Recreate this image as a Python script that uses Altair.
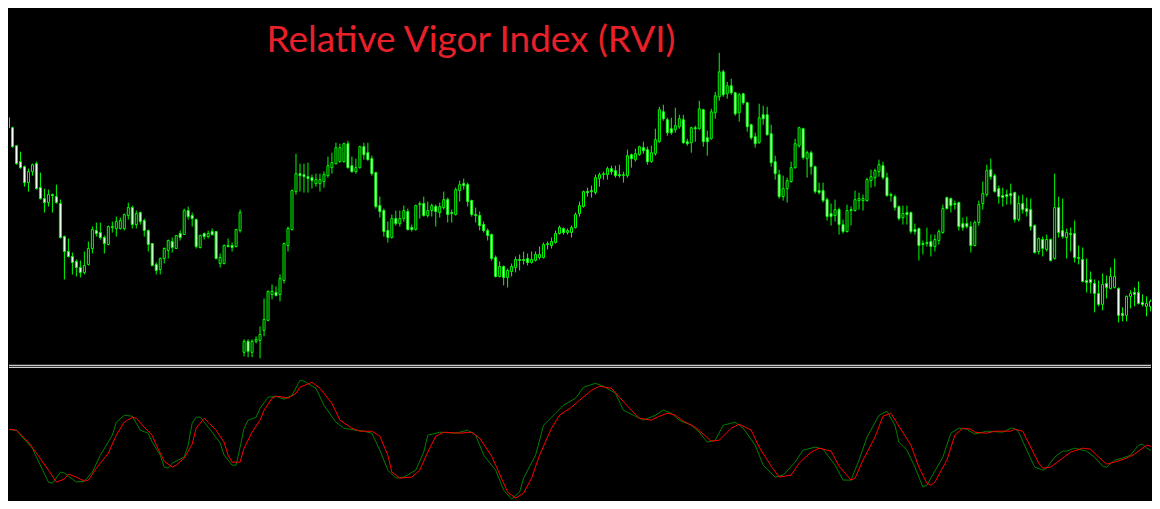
import altair as alt
import pandas as pd

TITLE = "Relative Vigor Index (RVI)"

# Candles (price units), one per bar
open_ = [
    367,382,372,354,338,333,317,328,336,312,
    301,297,305,303,296,263,248,243,238,232,
    227,235,251,269,267,262,255,272,271,271,
    271,284,292,275,287,279,269,256,235,230,
    241,249,258,251,266,265,289,284,280,252,
    266,263,268,268,236,236,254,254,253,269,
    147,158,147,158,159,169,179,205,207,205,
    219,254,270,308,326,325,323,322,316,316,
    318,324,332,336,338,338,356,334,328,332,
    353,347,341,327,294,289,269,262,281,276,
    281,288,272,270,295,296,284,289,293,287,
    292,300,287,285,309,316,315,299,285,284,
    275,269,265,242,223,233,222,228,232,240,
    240,241,237,239,242,242,255,254,257,266,
    271,267,267,272,286,293,308,309,307,321,
    325,325,331,329,325,324,324,345,340,345,
    352,350,338,346,358,388,380,371,370,373,
    380,358,357,372,371,390,362,361,387,403,
    428,406,414,407,387,406,397,375,363,357,
    385,385,366,338,325,303,311,318,332,354,
    371,341,347,333,309,309,300,286,284,290,
    275,268,290,289,299,299,299,319,322,328,
    334,322,305,303,293,282,287,287,270,271,
    256,257,258,253,259,267,302,301,296,297,
    276,276,273,254,277,296,305,330,324,311,
    304,305,306,307,280,296,291,290,274,248,
    260,250,260,241,292,269,262,266,266,242,
    240,219,220,216,206,195,216,211,212,211,
    186,184,203,207,207,197,193,193,198,203,
]
close = [
    382,372,353,336,332,317,328,335,311,301,
    297,305,304,297,262,248,243,237,232,227,
    234,251,270,266,262,256,273,273,278,279,
    285,292,275,286,278,269,255,234,229,241,
    251,259,252,264,262,289,283,281,253,264,
    263,266,265,241,242,254,253,252,270,287,
    158,148,158,160,165,180,208,208,204,221,
    256,271,309,326,324,323,321,319,320,320,
    325,334,337,352,352,356,332,328,332,353,
    345,340,326,293,288,268,262,281,276,281,
    289,270,270,294,296,284,289,294,288,293,
    300,285,286,310,315,314,298,285,284,274,
    269,264,241,223,233,222,229,233,240,239,
    239,237,240,245,245,255,256,258,266,272,
    267,269,272,285,294,308,307,308,322,325,
    326,331,328,324,324,325,344,341,346,353,
    349,338,347,360,390,381,367,367,374,381,
    357,356,372,371,391,358,358,388,404,428,
    405,414,407,386,405,397,373,362,356,382,
    381,365,337,326,303,311,319,332,356,372,
    342,347,333,308,307,299,283,283,290,275,
    268,289,289,300,301,301,320,323,329,335,
    322,304,304,292,281,286,285,268,268,254,
    255,256,253,260,268,291,291,294,295,273,
    272,273,254,277,295,306,329,323,308,303,
    302,303,304,280,296,290,288,273,247,261,
    251,260,239,292,267,263,267,265,242,241,
    218,217,217,206,195,215,212,223,223,184,
    184,203,206,205,196,195,196,198,204,212,
]
high = [
    387,392,373,354,348,334,331,336,338,327,
    311,310,306,315,300,264,261,247,240,239,
    248,258,273,277,277,264,274,278,283,282,
    286,297,294,289,288,281,270,256,237,242,
    252,260,262,264,269,291,293,287,281,265,
    267,269,271,268,246,255,261,257,270,290,
    160,160,160,163,173,201,209,215,213,225,
    257,273,310,346,336,336,337,325,326,326,
    328,343,347,357,356,357,359,343,341,354,
    357,357,344,328,303,291,278,285,289,289,
    294,291,275,295,298,303,298,296,295,297,
    308,302,290,312,319,321,317,300,292,288,
    278,271,266,244,238,234,231,236,243,245,
    248,246,248,248,253,257,258,262,269,274,
    272,271,274,287,298,309,312,314,325,327,
    328,333,334,334,335,328,350,346,351,354,
    358,353,354,371,393,395,382,382,392,385,
    385,361,373,374,399,391,369,391,408,447,
    430,418,421,408,407,407,398,376,367,396,
    394,393,375,344,330,324,322,338,361,373,
    372,349,349,334,317,317,302,296,300,292,
    280,295,293,309,307,305,322,330,331,340,
    338,327,307,305,294,294,294,288,276,272,
    259,272,265,265,270,295,303,302,299,298,
    282,283,278,279,299,318,335,341,326,314,
    312,310,316,308,304,305,302,301,275,262,
    263,265,261,326,303,301,271,272,279,254,
    252,241,228,220,219,226,224,232,241,212,
    192,204,209,212,218,205,203,200,215,217,
]
low = [
    365,370,352,335,331,313,308,324,310,300,
    287,293,287,296,261,220,242,225,223,222,
    225,234,246,263,260,246,254,267,263,270,
    269,280,271,271,275,263,248,233,225,225,
    236,241,247,251,259,265,280,273,251,251,
    260,261,264,240,232,235,252,248,252,267,
    143,142,142,156,141,163,178,200,203,198,
    216,248,269,305,308,307,307,311,313,308,
    312,322,326,335,337,337,331,327,326,331,
    340,339,324,291,282,263,257,261,274,273,
    278,269,268,269,281,283,282,283,273,282,
    290,277,277,284,298,310,293,283,277,269,
    267,259,239,222,222,214,212,223,227,229,
    235,234,236,238,240,241,250,251,256,265,
    265,265,262,271,283,292,303,302,305,313,
    320,320,325,322,322,317,322,332,338,344,
    346,335,337,344,357,379,364,365,367,371,
    356,354,347,358,370,353,344,360,381,399,
    403,401,405,384,378,395,368,360,352,356,
    375,364,333,320,301,299,297,317,331,352,
    340,322,325,306,305,297,279,274,278,265,
    266,267,274,288,290,289,298,312,313,323,
    320,303,298,289,279,275,275,266,265,239,
    245,253,243,248,255,266,290,287,290,269,
    269,271,247,253,274,290,303,320,307,296,
    293,295,295,277,278,286,283,269,246,245,
    243,248,238,240,262,261,241,248,237,235,
    217,207,206,187,193,189,201,210,211,177,
    178,178,191,193,195,193,183,188,197,200,
]

# RVI main line (green) and signal line (red): (bar, value)
rvi_main = [
    (-1,0.06),(0,0.06),(3,0.05),(4,0.00),(7,-0.13),(8,-0.22),(11,-0.47),(12,-0.48),
    (14,-0.37),(15,-0.38),(17,-0.44),(18,-0.47),(20,-0.46),(22,-0.37),(24,-0.20),
    (27,0.00),(28,0.13),(30,0.20),(32,0.19),(33,0.12),(34,0.05),(36,0.02),(37,-0.07),
    (39,-0.20),(40,-0.32),(41,-0.33),(42,-0.28),(45,-0.22),(46,-0.10),(47,0.12),
    (48,0.18),(49,0.18),(51,0.08),(52,0.03),(54,-0.08),(55,-0.20),(57,-0.30),(58,-0.30),
    (59,-0.12),(60,0.07),(61,0.15),(63,0.18),(64,0.27),(66,0.38),(68,0.39),(70,0.36),
    (72,0.40),(74,0.55),(75,0.54),(78,0.47),(80,0.30),(83,0.13),(85,0.07),(88,0.05),
    (90,0.04),(92,0.02),(94,-0.15),(96,-0.35),(98,-0.43),(100,-0.42),(103,-0.35),
    (105,-0.17),(106,0.00),(109,0.03),(113,0.02),(116,0.05),(118,0.00),(120,-0.20),
    (123,-0.35),(125,-0.55),(127,-0.64),(129,-0.57),(130,-0.43),(133,-0.20),(135,0.10),
    (138,0.22),(140,0.30),(143,0.37),(145,0.48),(148,0.52),(150,0.49),(153,0.42),
    (155,0.25),(158,0.19),(160,0.15),(163,0.20),(165,0.25),(167,0.22),(169,0.15),
    (172,0.10),(174,0.03),(176,-0.07),(178,-0.05),(180,0.10),(183,0.13),(185,0.07),
    (188,-0.10),(190,-0.30),(193,-0.42),(195,-0.40),(198,-0.27),(200,-0.15),(203,-0.12),
    (205,-0.14),(208,-0.30),(210,-0.45),(212,-0.45),(214,-0.25),(216,-0.02),(219,0.20),
    (221,0.24),(223,0.10),(224,-0.07),(226,-0.15),(228,-0.32),(230,-0.52),(231,-0.50),
    (232,-0.43),(235,-0.22),(237,0.02),(239,0.07),(241,0.06),(243,0.01),(246,0.04),
    (250,0.03),(252,0.07),(253,0.07),(254,0.03),(256,-0.15),(258,-0.32),(260,-0.35),
    (261,-0.33),(263,-0.22),(265,-0.16),(266,-0.16),(268,-0.13),(271,-0.16),(273,-0.22),
    (275,-0.31),(276,-0.32),(278,-0.25),(280,-0.23),(282,-0.20),(284,-0.10),(285,-0.09),
    (286,-0.13),(288,-0.17),(289,-0.11),
]
rvi_signal = [
    (-1,0.05),(1,0.06),(3,0.05),(6,-0.07),(8,-0.18),(11,-0.35),(13,-0.47),(15,-0.44),
    (16,-0.39),(18,-0.42),(20,-0.46),(21,-0.45),(23,-0.33),(26,-0.18),(28,0.00),
    (30,0.13),(32,0.18),(33,0.17),(35,0.08),(37,0.00),(38,-0.10),(40,-0.26),(42,-0.32),
    (43,-0.30),(45,-0.23),(47,-0.09),(48,0.07),(50,0.17),(51,0.13),(53,0.05),(55,-0.07),
    (56,-0.20),(57,-0.27),(59,-0.27),(60,-0.13),(62,0.03),(64,0.15),(65,0.25),(67,0.37),
    (68,0.39),(70,0.38),(71,0.37),(73,0.42),(74,0.48),(77,0.53),(79,0.47),(82,0.32),
    (84,0.15),(87,0.07),(89,0.04),(92,0.04),(94,-0.01),(96,-0.20),(97,-0.37),(99,-0.43),
    (102,-0.42),(104,-0.35),(106,-0.17),(108,-0.01),(110,0.03),(114,0.02),(117,0.03),
    (119,-0.03),(122,-0.21),(124,-0.39),(126,-0.57),(128,-0.63),(130,-0.58),(132,-0.43),
    (134,-0.20),(137,0.07),(139,0.20),(142,0.28),(144,0.35),(147,0.45),(149,0.49),
    (152,0.47),(154,0.38),(157,0.25),(159,0.17),(162,0.15),(164,0.19),(166,0.22),
    (168,0.20),(170,0.14),(173,0.08),(175,0.01),(177,-0.06),(179,-0.05),(182,0.07),
    (184,0.11),(187,0.05),(189,-0.12),(192,-0.31),(194,-0.42),(197,-0.40),(199,-0.28),
    (202,-0.17),(204,-0.13),(207,-0.16),(209,-0.31),(212,-0.45),(213,-0.43),(215,-0.25),
    (218,-0.02),(220,0.19),(222,0.22),(224,0.09),(227,-0.10),(229,-0.32),(231,-0.48),
    (232,-0.50),(233,-0.47),(236,-0.25),(238,0.00),(240,0.07),(242,0.06),(243,0.03),
    (246,0.02),(248,0.04),(252,0.04),(253,0.06),(255,0.04),(257,-0.12),(259,-0.28),
    (260,-0.33),(262,-0.32),(265,-0.23),(267,-0.17),(270,-0.13),(272,-0.14),(274,-0.22),
    (276,-0.29),(278,-0.27),(281,-0.23),(283,-0.19),(286,-0.10),(288,-0.12),(289,-0.15),
]

CANDLE = "#00FF00"
BULL_FILL = "#000000"
BEAR_FILL = "#FFFFFF"
MAIN_COLOR = "#008000"
SIGNAL_COLOR = "#FF0000"
TITLE_COLOR = "#E8202A"

W = 1144
H_TOP = 357
H_BOT = 136

candles = pd.DataFrame({
    "bar": list(range(len(open_))),
    "open": open_, "high": high, "low": low, "close": close,
})
candles["dir"] = ["bull" if c >= o else "bear" for o, c in zip(open_, close)]

main_df = pd.DataFrame(rvi_main, columns=["bar", "value"])
sig_df = pd.DataFrame(rvi_signal, columns=["bar", "value"])

xs = alt.Scale(domain=[1.125, 1.125 + W / 4], nice=False, zero=False)
ys = alt.Scale(domain=[491.5 - H_TOP, 491.5], nice=False, zero=False)
rs = alt.Scale(domain=[0.705 - H_BOT / 100, 0.705], nice=False, zero=False)

base = alt.Chart(candles)
wicks = base.mark_rule(color=CANDLE, strokeWidth=1, clip=True).encode(
    x=alt.X("bar:Q", scale=xs, axis=None),
    y=alt.Y("high:Q", scale=ys, axis=None),
    y2="low:Q",
)
bodies = base.transform_calculate(
    b0="datum.bar - 0.25", b1="datum.bar + 0.25"
).mark_rect(stroke=CANDLE, strokeWidth=1, clip=True).encode(
    x=alt.X("b0:Q", scale=xs, axis=None),
    x2="b1:Q",
    y=alt.Y("open:Q", scale=ys, axis=None),
    y2="close:Q",
    fill=alt.Fill("dir:N", scale=alt.Scale(domain=["bull", "bear"], range=[BULL_FILL, BEAR_FILL]), legend=None),
)
title = alt.Chart(pd.DataFrame({"t": [TITLE]})).mark_text(
    align="left", baseline="alphabetic", font="Lato", fontSize=37, color=TITLE_COLOR
).encode(x=alt.value(258), y=alt.value(44), text="t:N")

top = alt.layer(wicks, bodies, title).properties(width=W, height=H_TOP)

one = pd.DataFrame({"k": [0]})
sep1 = alt.Chart(one).mark_rule(color="#FFFFFF", strokeWidth=1).encode(
    x=alt.value(0), x2=alt.value(W), y=alt.value(0.5))
sep2 = alt.Chart(one).mark_rule(color="#FFFFFF", strokeWidth=1).encode(
    x=alt.value(0), x2=alt.value(W), y=alt.value(2.5))
main_line = alt.Chart(main_df).mark_line(color=MAIN_COLOR, strokeWidth=1, clip=True).encode(
    x=alt.X("bar:Q", scale=xs, axis=None), y=alt.Y("value:Q", scale=rs, axis=None))
sig_line = alt.Chart(sig_df).mark_line(color=SIGNAL_COLOR, strokeWidth=1, clip=True).encode(
    x=alt.X("bar:Q", scale=xs, axis=None), y=alt.Y("value:Q", scale=rs, axis=None))

bottom = alt.layer(sep1, sep2, main_line, sig_line).properties(width=W, height=H_BOT)

chart = alt.vconcat(top, bottom, spacing=0, bounds="flush").properties(
    padding=0, background="#000000"
).configure_view(stroke=None)

chart.save("out.html", embed_options={"renderer": "svg", "actions": False})
